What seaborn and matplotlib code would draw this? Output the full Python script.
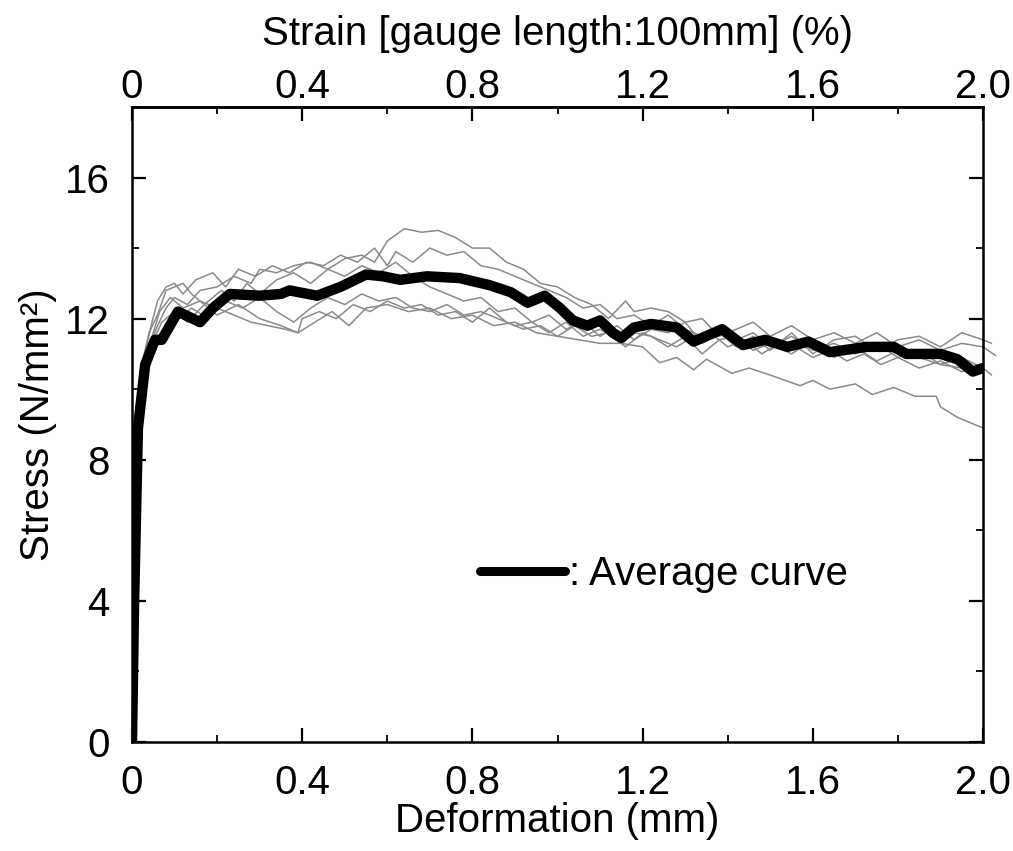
import numpy as np
import pandas as pd
import matplotlib
matplotlib.use("Agg")
import matplotlib.pyplot as plt
import seaborn as sns
from matplotlib.ticker import MultipleLocator, FuncFormatter

# ---------------- data (deformation in mm, stress in N/mm2) ----------------
c1_x = [0, 0.005, 0.012, 0.02, 0.03, 0.04, 0.06, 0.08, 0.1, 0.13, 0.16, 0.2, 0.24, 0.28, 0.3, 0.34, 0.38, 0.42, 0.46, 0.5, 0.54, 0.57, 0.6, 0.64, 0.68, 0.72, 0.76, 0.8, 0.84, 0.88, 0.92, 0.96, 1.0, 1.04, 1.08, 1.12, 1.16, 1.18, 1.22, 1.26, 1.3, 1.34, 1.38, 1.42, 1.46, 1.5, 1.55, 1.6, 1.65, 1.7, 1.75, 1.8, 1.85, 1.9, 1.95, 2.0, 2.03]
c1_y = [0, 3, 7, 9.5, 10.5, 11.2, 11.8, 12.3, 12.6, 12.4, 12.8, 12.9, 13.2, 13.0, 13.4, 13.3, 13.5, 13.6, 13.4, 13.7, 13.8, 13.6, 14.2, 14.55, 14.45, 14.5, 14.3, 14.0, 14.0, 13.6, 13.4, 13.0, 12.9, 12.6, 12.4, 12.0, 12.5, 12.2, 12.3, 12.2, 11.9, 12.0, 11.5, 11.7, 11.9, 11.5, 11.8, 11.4, 11.6, 11.3, 11.6, 11.2, 11.4, 11.1, 11.3, 11.2, 10.95]

c2_x = [0, 0.006, 0.014, 0.022, 0.03, 0.045, 0.06, 0.08, 0.1, 0.12, 0.15, 0.19, 0.22, 0.25, 0.29, 0.33, 0.37, 0.41, 0.45, 0.49, 0.53, 0.57, 0.6, 0.62, 0.66, 0.7, 0.74, 0.78, 0.82, 0.86, 0.9, 0.94, 0.98, 1.02, 1.06, 1.1, 1.14, 1.18, 1.22, 1.26, 1.3, 1.34, 1.38, 1.42, 1.46, 1.5, 1.55, 1.6, 1.65, 1.7, 1.75, 1.8, 1.85, 1.9, 1.95, 2.0, 2.02]
c2_y = [0, 4, 8, 10.2, 11.0, 11.8, 12.5, 12.9, 13.0, 12.7, 13.1, 13.3, 12.9, 13.4, 13.2, 13.5, 13.3, 13.6, 13.5, 13.8, 13.6, 14.0, 13.5, 13.9, 13.6, 14.0, 13.8, 13.9, 13.5, 13.4, 13.2, 13.0, 12.8, 12.6, 12.3, 12.4, 12.0, 12.1, 11.8, 12.1, 11.7, 11.5, 11.8, 11.4, 11.6, 11.2, 11.5, 11.1, 11.3, 11.0, 11.3, 10.9, 11.1, 10.7, 10.9, 10.6, 10.4]

c3_x = [0, 0.008, 0.018, 0.03, 0.045, 0.065, 0.09, 0.12, 0.16, 0.2, 0.25, 0.3, 0.35, 0.39, 0.43, 0.47, 0.51, 0.55, 0.6, 0.65, 0.7, 0.75, 0.8, 0.85, 0.9, 0.95, 1.0, 1.05, 1.1, 1.15, 1.2, 1.24, 1.28, 1.32, 1.35, 1.41, 1.45, 1.5, 1.57, 1.6, 1.64, 1.7, 1.74, 1.79, 1.84, 1.89, 1.9, 1.94, 2.0]
c3_y = [0, 5, 9, 10.6, 11.4, 12.2, 12.6, 12.3, 12.5, 12.1, 12.4, 12.0, 11.8, 11.6, 11.9, 12.2, 11.8, 12.3, 12.4, 12.2, 12.3, 12.0, 12.1, 11.8, 11.9, 11.6, 11.5, 11.4, 11.3, 11.3, 11.2, 10.75, 10.9, 10.55, 10.85, 10.45, 10.6, 10.4, 10.1, 10.25, 10.0, 10.15, 9.85, 10.05, 9.8, 9.8, 9.5, 9.2, 8.9]

c4_x = [0, 0.007, 0.016, 0.026, 0.04, 0.055, 0.07, 0.1, 0.13, 0.17, 0.21, 0.24, 0.27, 0.3, 0.34, 0.38, 0.42, 0.46, 0.5, 0.54, 0.58, 0.62, 0.66, 0.7, 0.74, 0.78, 0.82, 0.86, 0.9, 0.94, 0.98, 1.02, 1.06, 1.1, 1.14, 1.18, 1.22, 1.26, 1.3, 1.34, 1.38, 1.42, 1.46, 1.5, 1.55, 1.6, 1.65, 1.7, 1.75, 1.8, 1.85, 1.9, 1.95, 2.0, 2.02]
c4_y = [0, 4.5, 8.5, 10.2, 11.0, 11.5, 11.9, 12.2, 11.9, 12.4, 12.8, 12.5, 13.0, 12.7, 13.1, 13.3, 13.0, 13.4, 13.2, 13.5, 13.3, 13.6, 13.2, 12.9, 12.7, 12.5, 12.6, 12.2, 12.3, 11.9, 12.1, 11.7, 11.9, 11.5, 11.8, 11.4, 11.7, 11.6, 11.9, 11.3, 11.6, 11.2, 11.5, 11.1, 11.6, 11.0, 11.4, 11.5, 11.1, 11.4, 11.5, 11.2, 11.6, 11.4, 11.3]

c5_x = [0, 0.01, 0.02, 0.035, 0.05, 0.07, 0.1, 0.14, 0.18, 0.22, 0.26, 0.3, 0.34, 0.38, 0.42, 0.46, 0.5, 0.54, 0.58, 0.62, 0.66, 0.7, 0.74, 0.78, 0.82, 0.86, 0.9, 0.94, 0.98, 1.02, 1.06, 1.1, 1.14, 1.18, 1.22, 1.26, 1.3, 1.34, 1.38, 1.42, 1.46, 1.5, 1.55, 1.6, 1.65, 1.7, 1.75, 1.8, 1.85, 1.9, 1.95, 2.0]
c5_y = [0, 6, 9.0, 10.4, 11.0, 11.6, 11.9, 12.3, 12.0, 12.5, 12.3, 12.6, 12.2, 11.9, 12.3, 12.6, 12.4, 12.7, 12.5, 12.6, 12.3, 12.2, 12.4, 12.1, 12.2, 12.0, 11.8, 11.9, 11.6, 11.9, 11.5, 11.7, 11.4, 11.6, 11.5, 11.2, 11.5, 11.0, 11.4, 11.5, 11.1, 11.3, 11.0, 11.4, 10.9, 11.2, 10.8, 11.1, 10.9, 10.7, 10.6, 10.45]

c6_x = [0, 0.006, 0.015, 0.025, 0.04, 0.06, 0.08, 0.1, 0.12, 0.14, 0.16, 0.2, 0.24, 0.28, 0.32, 0.36, 0.39, 0.4, 0.44, 0.48, 0.52, 0.56, 0.6, 0.64, 0.68, 0.72, 0.76, 0.8, 0.84, 0.88, 0.92, 0.96, 1.0, 1.04, 1.08, 1.12, 1.16, 1.2, 1.24, 1.28, 1.32, 1.36, 1.4, 1.44, 1.48, 1.52, 1.56, 1.6, 1.64, 1.68, 1.72, 1.76, 1.8, 1.85, 1.9, 1.95, 2.0]
c6_y = [0, 5, 9.2, 10.8, 11.6, 12.1, 12.8, 12.9, 13.0, 12.7, 12.5, 12.3, 12.1, 11.9, 11.8, 11.7, 11.6, 12.0, 12.2, 12.0, 12.4, 12.2, 12.5, 12.3, 12.4, 12.1, 12.2, 11.9, 12.3, 11.9, 11.7, 11.8, 11.5, 11.8, 11.5, 11.6, 11.2, 11.6, 11.4, 11.2, 11.5, 11.6, 11.2, 11.4, 11.0, 11.3, 11.2, 10.9, 11.1, 10.8, 11.0, 10.7, 10.9, 10.6, 10.8, 10.5, 10.6]

avg_x = [0, 0.005, 0.014, 0.031, 0.054, 0.07, 0.108, 0.16, 0.19, 0.23, 0.30, 0.35, 0.37, 0.435, 0.49, 0.55, 0.59, 0.63, 0.693, 0.77, 0.84, 0.89, 0.93, 0.97, 1.006, 1.036, 1.07, 1.10, 1.13, 1.15, 1.18, 1.22, 1.28, 1.32, 1.387, 1.436, 1.488, 1.54, 1.59, 1.64, 1.727, 1.79, 1.82, 1.90, 1.94, 1.976, 2.0]
avg_y = [0, 4, 8.9, 10.7, 11.4, 11.4, 12.2, 11.9, 12.3, 12.7, 12.65, 12.7, 12.8, 12.65, 12.9, 13.25, 13.2, 13.1, 13.2, 13.15, 12.95, 12.75, 12.45, 12.65, 12.3, 11.95, 11.8, 11.95, 11.6, 11.45, 11.75, 11.85, 11.75, 11.35, 11.7, 11.25, 11.4, 11.2, 11.35, 11.05, 11.2, 11.2, 11.0, 11.0, 10.85, 10.5, 10.6]

x_ticks = [0, 0.4, 0.8, 1.2, 1.6, 2.0]
y_ticks = [0, 4, 8, 12, 16]

specimens = [(c1_x, c1_y), (c2_x, c2_y), (c3_x, c3_y), (c4_x, c4_y), (c5_x, c5_y), (c6_x, c6_y)]
rows = []
for i, (xs, ys) in enumerate(specimens):
    for j, (a, b) in enumerate(zip(xs, ys)):
        rows.append({"specimen": f"S{i+1}", "order": j, "def": a, "stress": b})
df = pd.DataFrame(rows)
avg_df = pd.DataFrame({"def": avg_x, "stress": avg_y})

# ---------------- style ----------------
sns.set_style("ticks")
plt.rcParams["font.family"] = ["Liberation Sans", "DejaVu Sans"]
plt.rcParams["text.color"] = "black"
plt.rcParams["axes.labelcolor"] = "black"
plt.rcParams["xtick.color"] = "black"
plt.rcParams["ytick.color"] = "black"
plt.rcParams["axes.edgecolor"] = "black"
plt.rcParams["xtick.direction"] = "in"
plt.rcParams["ytick.direction"] = "in"

fig = plt.figure(figsize=(10.13, 8.51), dpi=100)
ax = fig.add_axes([0.1303, 0.1281, 0.8401, 0.7462])

FS = 29

sns.lineplot(data=df, x="def", y="stress", units="specimen", estimator=None,
             sort=False, color="#8a8a8a", linewidth=1.1, ax=ax, legend=False)
for line in ax.lines:
    line.set_clip_on(False)

sns.lineplot(data=avg_df, x="def", y="stress", sort=False, color="black",
             linewidth=7.5, ax=ax, label=": Average curve",
             solid_capstyle="round", solid_joinstyle="round")

ax.set_xlim(0, 2.0)
ax.set_ylim(0, 18)

fmt = FuncFormatter(lambda v, p: "0" if abs(v) < 1e-9 else f"{v:.1f}")
ax.set_xticks(x_ticks)
ax.xaxis.set_minor_locator(MultipleLocator(0.2))
ax.xaxis.set_major_formatter(fmt)
ax.set_yticks(y_ticks)
ax.yaxis.set_minor_locator(MultipleLocator(2))

for s in ax.spines.values():
    s.set_linewidth(1.8)
    s.set_visible(True)
    s.set_color("black")

ax.tick_params(axis="x", which="major", length=10, width=1.6, labelsize=FS, pad=16,
               top=False, direction="in", colors="black")
ax.tick_params(axis="y", which="major", length=10, width=1.6, labelsize=FS, pad=16,
               right=True, direction="in", colors="black")
ax.tick_params(which="minor", length=5, width=1.3, right=True, top=False, direction="in")

top = ax.secondary_xaxis("top")
top.set_xticks(x_ticks)
top.xaxis.set_minor_locator(MultipleLocator(0.2))
top.xaxis.set_major_formatter(fmt)
top.tick_params(which="major", length=10, width=1.6, labelsize=FS, pad=1,
                direction="in", colors="black")
top.tick_params(which="minor", length=5, width=1.3, direction="in")
top.spines["top"].set_linewidth(1.8)
top.spines["top"].set_color("black")
top.set_xlabel("Strain [gauge length:100mm] (%)", fontsize=FS, labelpad=16, color="black")

ax.set_xlabel("Deformation (mm)", fontsize=FS, labelpad=0)
ax.set_ylabel("Stress (N/mm²)", fontsize=FS, labelpad=6)

leg = ax.legend(loc="center left", bbox_to_anchor=(0.39, 0.265), frameon=False,
                fontsize=FS, handlelength=2.1, handletextpad=0.1, borderaxespad=0)
for h in leg.legend_handles:
    h.set_linewidth(6.5)
for t in leg.get_texts():
    t.set_color("black")

fig.savefig("out.png", dpi=100)
